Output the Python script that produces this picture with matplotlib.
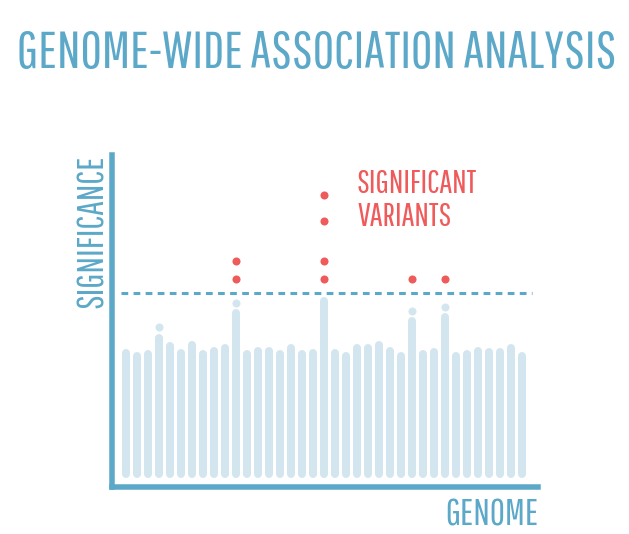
import numpy as np
import matplotlib
matplotlib.use("Agg")
import matplotlib.pyplot as plt

plt.rcParams['font.family'] = ['Pathway Gothic One', 'DejaVu Sans']

# significance of each marker along the genome (arbitrary units)
sig = [6.89, 6.74, 6.84, 7.67, 7.24, 6.89, 7.29, 6.84, 6.99, 7.14,
       8.89, 6.84, 6.99, 6.99, 6.84, 7.14, 6.84, 6.89, 9.49, 6.89,
       6.74, 7.14, 7.14, 7.29, 6.99, 6.74, 8.49, 6.84, 6.94, 8.69,
       6.74, 6.84, 6.99, 6.94, 6.94, 7.14, 6.74]
base = 0.45

# faint single dots above some bars
faint_x = [3, 10, 26, 29]
faint_y = [8.0, 9.2, 8.8, 9.0]

# red dots = significant variants
red_x = [10, 10, 18, 18, 18, 18, 26, 29]
red_y = [10.39, 11.3, 10.39, 11.3, 13.3, 14.6, 10.39, 10.39]

threshold = 9.69

blue = '#5ca8c8'
light = '#d3e6ef'
red = '#ef5a5a'

fig = plt.figure(figsize=(6.29, 5.34), dpi=100)
W, H = 629, 534
ax = fig.add_axes([112 / W, (H - 487) / H, (538 - 112) / W, (487 - 154.5) / H])

x = np.arange(len(sig))
r = 0.2  # cap radius in data units
bars = ax.vlines(x, base + r, np.array(sig) - r, colors=light, linewidth=5.76)
bars.set_capstyle('round')

ax.plot(faint_x, faint_y, 'o', color=light, markersize=5.8, markeredgewidth=0)
ax.plot(red_x, red_y, 'o', color=red, markersize=5.8, markeredgewidth=0)

ax.hlines(threshold, -0.48, 36.88, colors=blue, linewidth=2.2,
          linestyles=(0, (2.2, 1.75)))

ax.set_xlim(-1.2727, 37.4545)
ax.set_ylim(0, 16.625)
ax.set_xticks([])
ax.set_yticks([])
for s in ['top', 'right']:
    ax.spines[s].set_visible(False)
for s in ['left', 'bottom']:
    ax.spines[s].set_color(blue)
    ax.spines[s].set_linewidth(3.96)
    ax.spines[s].set_capstyle('projecting')

renderer = fig.canvas.get_renderer()


def fit(t, width_px):
    # scale font so the text run is width_px long
    t.set_rotation(0)
    w = t.get_window_extent(renderer).width
    t.set_fontsize(t.get_fontsize() * width_px / w)


title = fig.text(317 / W, 1 - 68 / H, 'GENOME-WIDE ASSOCIATION ANALYSIS', color=blue,
                 fontsize=20, ha='center', va='baseline')
fit(title, 600)

ylab = fig.text(103 / W, 1 - 231 / H, 'SIGNIFICANCE', color=blue, fontsize=20,
                rotation_mode='anchor', ha='center', va='baseline')
fit(ylab, 153)
ylab.set_rotation(90)

xlab = fig.text(538 / W, 1 - 525 / H, 'GENOME', color=blue, fontsize=20,
                ha='right', va='baseline')
fit(xlab, 93)

t1 = fig.text(357 / W, 1 - 193 / H, 'SIGNIFICANT', color=red, fontsize=20,
              ha='left', va='baseline')
fit(t1, 121)
t2 = fig.text(357 / W, 1 - 225.5 / H, 'VARIANTS', color=red,
              fontsize=t1.get_fontsize(), ha='left', va='baseline')

fig.savefig('out.png', dpi=100)
